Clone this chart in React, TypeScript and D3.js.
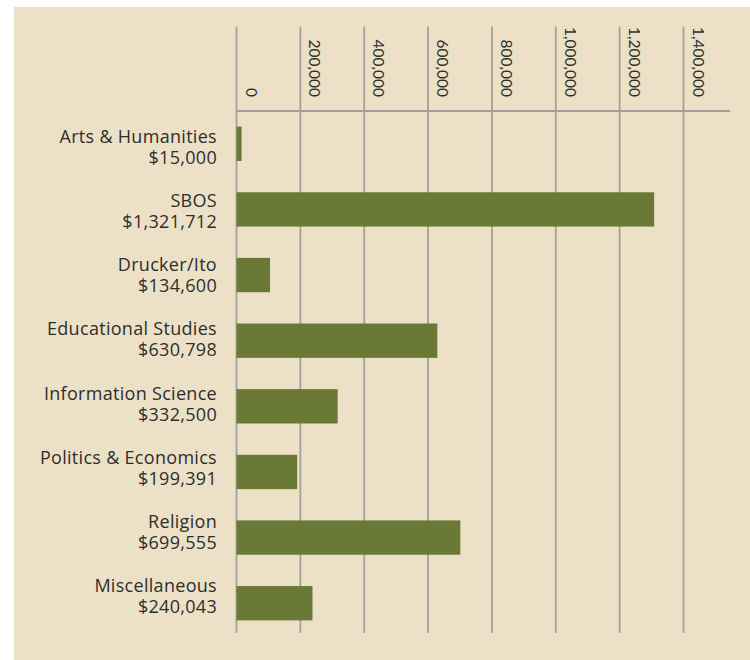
import React, { useEffect, useRef } from "react";
import * as d3 from "d3";

const categories = [
  "Arts & Humanities",
  "SBOS",
  "Drucker/Ito",
  "Educational Studies",
  "Information Science",
  "Politics & Economics",
  "Religion",
  "Miscellaneous",
];
// amounts as printed under each name
const amountLabels = [
  "$15,000",
  "$1,321,712",
  "$134,600",
  "$630,798",
  "$332,500",
  "$199,391",
  "$699,555",
  "$240,043",
];
// bar lengths as drawn
const barValues = [16000, 1308000, 105000, 629000, 317000, 190000, 701000, 238000];
const tickValues = [0, 200000, 400000, 600000, 800000, 1000000, 1200000, 1400000];

const App = () => {
  const svgRef = useRef<SVGSVGElement>(null);

  useEffect(() => {
    drawChart();
  }, []);

  const drawChart = () => {
    const W = 750;
    const H = 660;
    const svg = d3.select(svgRef.current).attr("width", W).attr("height", H);
    svg.selectAll("*").remove();

    const labelFont = "'Open Sans', 'DejaVu Sans', sans-serif";
    const tickFont = "Lato, 'DejaVu Sans', sans-serif";
    const gridColor = "#a3a099";

    svg.append("rect").attr("width", W).attr("height", H).attr("fill", "#ffffff");
    svg
      .append("rect")
      .attr("x", 14)
      .attr("y", 7)
      .attr("width", W - 14)
      .attr("height", H - 7)
      .attr("fill", "#ece1c6");

    const x = d3.scaleLinear().domain([0, 1400000]).range([236.5, 683.5]);
    const yBar = d3.scaleBand().domain(categories).range([113.5, 633.5]).paddingInner(0.477).paddingOuter(0.2);
    const yLabel = d3.scalePoint().domain(categories).range([143, 592]);

    const axisTop = 26.5;
    const axisBottom = 633;
    const axisY = 111;

    // gridlines
    svg
      .append("g")
      .selectAll("line")
      .data(tickValues)
      .enter()
      .append("line")
      .attr("x1", (d) => x(d))
      .attr("x2", (d) => x(d))
      .attr("y1", axisTop)
      .attr("y2", axisBottom)
      .attr("stroke", gridColor)
      .attr("stroke-width", 1.8);

    // horizontal axis line
    svg
      .append("line")
      .attr("x1", x(0))
      .attr("x2", 730)
      .attr("y1", axisY)
      .attr("y2", axisY)
      .attr("stroke", gridColor)
      .attr("stroke-width", 2.2);

    // tick labels, rotated
    svg
      .append("g")
      .selectAll("text")
      .data(tickValues)
      .enter()
      .append("text")
      .attr("transform", (d) => `translate(${x(d) + 9},97) rotate(90)`)
      .attr("text-anchor", "end")
      .style("font-family", tickFont)
      .style("font-size", "15.5px")
      .style("fill", "#2e2e2e")
      .text((d) => d3.format(",")(d));

    // bars
    svg
      .append("g")
      .selectAll("rect")
      .data(barValues)
      .enter()
      .append("rect")
      .attr("x", x(0))
      .attr("y", (d, i) => yBar(categories[i]) as number)
      .attr("width", (d) => x(d) - x(0))
      .attr("height", yBar.bandwidth())
      .attr("fill", "#6a7936");

    // category labels
    const labels = svg
      .append("g")
      .selectAll("text")
      .data(categories)
      .enter()
      .append("text")
      .attr("text-anchor", "end")
      .style("font-family", labelFont)
      .style("font-size", "18px")
      .style("letter-spacing", "0.3px")
      .style("fill", "#2e2e2e");

    labels
      .append("tspan")
      .attr("x", 217)
      .attr("y", (d) => yLabel(d) as number)
      .text((d) => d);
    labels
      .append("tspan")
      .attr("x", 217)
      .attr("y", (d) => (yLabel(d) as number) + 21)
      .text((d, i) => amountLabels[i]);
  };

  return <svg ref={svgRef} style={{ position: "absolute", left: 0, top: 0 }}></svg>;
};

export default App;
